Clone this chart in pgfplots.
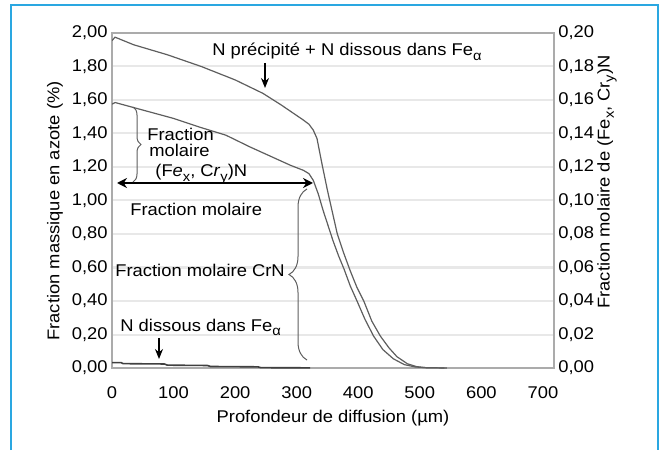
\documentclass[border=0pt]{standalone}
\usepackage{pgfplots}
\pgfplotsset{compat=1.18}
\usepackage{pgfplotstable}
\usepackage{fontspec}
\setmainfont{Liberation Sans}[FakeStretch=1.08]
\usetikzlibrary{decorations.pathreplacing,arrows.meta}
\definecolor{curve}{HTML}{5E5E5E}
\definecolor{framec}{HTML}{ABABAB}
\definecolor{gridc}{HTML}{E8E8E8}
\definecolor{bluef}{HTML}{2AA7E1}
\newcommand\fs{\fontsize{8.5}{9}\selectfont}
\newcommand\sub[1]{\raisebox{-0.5ex}{\fontsize{6.8}{7}\selectfont #1}}

\pgfplotstableread{
x y
0 1.955
5 1.975
35 1.93
90 1.87
145 1.80
200 1.72
245 1.64
275 1.57
295 1.52
311 1.48
320 1.455
327 1.42
333 1.37
341 1.22
350 1.06
358 0.93
366 0.80
376 0.69
387 0.58
398 0.48
409 0.40
422 0.28
436 0.19
450 0.12
463 0.067
480 0.025
495 0.008
510 0.002
544 0.0
}\outercurve

\pgfplotstableread{
x y
0 1.575
5 1.585
40 1.55
100 1.49
145 1.435
185 1.39
224 1.32
260 1.26
290 1.21
311 1.18
320 1.16
327 1.12
335 1.04
343 0.94
351 0.85
359 0.76
368 0.67
377 0.59
387 0.49
398 0.40
411 0.29
425 0.19
440 0.11
457 0.055
475 0.020
493 0.006
510 0.002
540 0.0
}\innercurve

\pgfplotstableread{
x y
0 0.032
15 0.032
18 0.026
85 0.024
90 0.017
155 0.015
160 0.009
237 0.007
242 0.002
322 0.001
}\dissous

\begin{document}
\begin{tikzpicture}[font=\fs]
\begin{axis}[
  at={(56pt,41pt)}, anchor=south west, scale only axis,
  width=221pt, height=167.5pt,
  xmin=0, xmax=718, ymin=0, ymax=2,
  xtick={0,100,200,300,400,500,600,700},
  ytick={0,0.2,0.4,0.6,0.8,1,1.2,1.4,1.6,1.8,2},
  axis line style={framec, line width=0.9pt},
  major tick length=0pt,
  ymajorgrids, grid style={gridc, line width=1pt},
  /pgf/number format/assume math mode=true,
  ticklabel style={font=\fs},
  yticklabel style={anchor=east, inner sep=0pt, xshift=-2pt,
    /pgf/number format/.cd, use comma, fixed, fixed zerofill, precision=2},
  xticklabel style={anchor=north, inner sep=0pt, yshift=-9pt,
    /pgf/number format/.cd, fixed, precision=0, 1000 sep={}},
]
\addplot[curve, line width=0.6pt, no marks] table {\outercurve};
\addplot[curve, line width=0.6pt, no marks] table {\innercurve};
\addplot[black!75, line width=0.8pt, no marks] table {\dissous};
\end{axis}
\begin{axis}[
  at={(56pt,41pt)}, anchor=south west, scale only axis,
  width=221pt, height=167.5pt,
  xmin=0, xmax=718, ymin=0, ymax=0.2,
  axis x line=none, axis y line*=right,
  y axis line style={draw=none},
  ytick={0,0.02,0.04,0.06,0.08,0.1,0.12,0.14,0.16,0.18,0.2},
  major tick length=0pt,
  /pgf/number format/assume math mode=true,
  ticklabel style={font=\fs},
  yticklabel style={anchor=west, inner sep=0pt, xshift=2pt,
    /pgf/number format/.cd, use comma, fixed, fixed zerofill, precision=2},
]
\addplot[draw=none, forget plot] coordinates {(0,0)};
\end{axis}
\begin{scope}[shift={(0,225pt)}, x=0.5pt, y=-0.5pt]
  \draw[bluef, line width=0.7pt] (11,450) -- (11,5) -- (658,5) -- (658,450);
  % labels
  \node[rotate=90, inner sep=0] at (55,211) {Fraction massique en azote (\%)};
  \node[rotate=90, inner sep=0] at (607,182) {Fraction molaire de (Fe\sub{x}, Cr\sub{y})N};
  \node[inner sep=0] at (333,418) {Profondeur de diffusion (µm)};
  % annotations
  \node[anchor=base west, inner sep=0] at (212,56) {N précipité + N dissous dans Fe\sub{α}};
  \draw[-{Stealth[length=5pt,width=4pt]}, line width=0.7pt] (265,63) -- (265,88);
  \node[anchor=base west, inner sep=0] at (147,141) {Fraction};
  \node[anchor=base west, inner sep=0] at (149,157) {molaire};
  \node[anchor=base west, inner sep=0] at (155,177) {(F\textit{e}\sub{x}, C\textit{r}\sub{y})N};
  \draw[{Stealth[length=5pt,width=5pt]}-{Stealth[length=5pt,width=5pt]}, line width=1.2pt] (117,183) -- (313,183);
  \node[anchor=base west, inner sep=0] at (130,216) {Fraction molaire};
  \node[anchor=base west, inner sep=0] at (115,277) {Fraction molaire CrN};
  \node[anchor=base west, inner sep=0] at (120,331) {N dissous dans Fe\sub{α}};
  \draw[-{Stealth[length=5pt,width=4pt]}, line width=0.7pt] (159,338) -- (159,359);
  % braces
  \draw[curve, line width=0.5pt, decorate, decoration={brace, amplitude=4pt}] (133,107) -- (133,182);
  \draw[curve, line width=0.5pt, decorate, decoration={brace, amplitude=9pt}] (307,360) -- (307,189);
\end{scope}
\pgfresetboundingbox
\path[use as bounding box] (0,0) rectangle (332pt,225pt);
\end{tikzpicture}
\end{document}
